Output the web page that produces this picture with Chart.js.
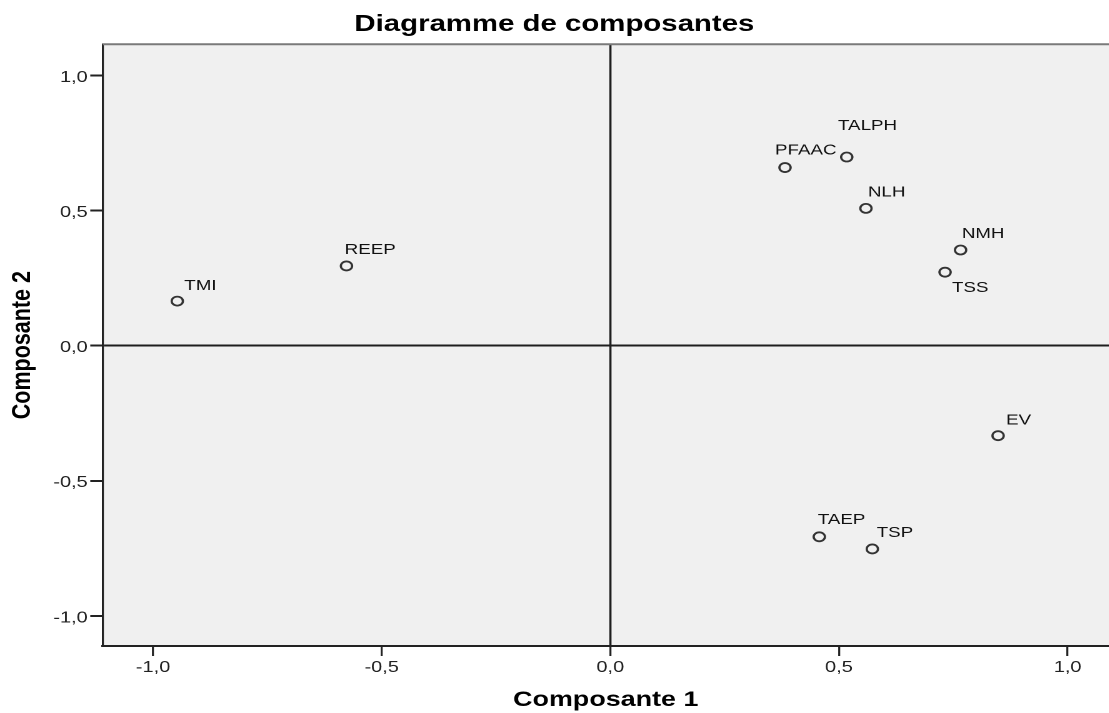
<!DOCTYPE html>
<html>
<head>
<meta charset="utf-8">
<script src="https://cdn.jsdelivr.net/npm/chart.js@4/dist/chart.umd.min.js"></script>
<style>
  html, body { margin: 0; padding: 0; background: #ffffff; overflow: hidden; }
  /* the whole figure is drawn narrow and widened horizontally */
  #wrap { width: 887px; height: 713px; transform: scaleX(1.25); transform-origin: 0 0; }
  canvas { display: block; }
</style>
</head>
<body>
<div id="wrap"><canvas id="c" width="887" height="713"></canvas></div>
<script>
// Component loadings
const variables = ['TMI', 'REEP', 'PFAAC', 'TALPH', 'NLH', 'NMH', 'TSS', 'EV', 'TAEP', 'TSP'];
const comp1 = [-0.947, -0.577, 0.382, 0.517, 0.559, 0.766, 0.732, 0.848, 0.457, 0.573];
const comp2 = [0.165, 0.295, 0.659, 0.698, 0.508, 0.354, 0.272, -0.333, -0.707, -0.752];

const xTicks = [-1.0, -0.5, 0.0, 0.5, 1.0];
const yTicks = [-1.0, -0.5, 0.0, 0.5, 1.0];

// where each name sits relative to its marker (dx, dy of the text baseline start)
const labelPlacement = {
  TMI: [5.6, -11], REEP: [-1.4, -12], PFAAC: [-8, -13], TALPH: [-7, -27],
  NLH: [1.6, -12], NMH: [1, -12], TSS: [5.6, 20], EV: [6.4, -11],
  TAEP: [-1.2, -13], TSP: [3.5, -12]
};

const fmt = v => v.toFixed(1).replace('.', ',');
const FONT = '"Liberation Sans", Arial, sans-serif';

const plotBackground = {
  id: 'plotBackground',
  beforeDraw(chart) {
    const {ctx, chartArea: a} = chart;
    ctx.save();
    ctx.fillStyle = '#f0f0f0';
    ctx.fillRect(a.left, a.top, a.right - a.left, a.bottom - a.top);
    ctx.restore();
  },
  afterDraw(chart) {
    const {ctx, chartArea: a} = chart;
    ctx.save();
    ctx.strokeStyle = '#7a7a7a';
    ctx.lineWidth = 2;
    ctx.beginPath();
    ctx.moveTo(a.left, a.top);
    ctx.lineTo(a.right, a.top);
    ctx.stroke();
    ctx.restore();
  }
};

const pointNames = {
  id: 'pointNames',
  afterDatasetsDraw(chart) {
    const {ctx} = chart;
    const meta = chart.getDatasetMeta(0);
    ctx.save();
    ctx.font = '15px ' + FONT;
    ctx.fillStyle = '#111111';
    ctx.textAlign = 'left';
    ctx.textBaseline = 'alphabetic';
    meta.data.forEach((pt, i) => {
      const name = variables[i];
      const [dx, dy] = labelPlacement[name] || [4, -10];
      ctx.fillText(name, pt.x + dx, pt.y + dy);
    });
    ctx.restore();
  }
};

const zeroOnly = c => (c.tick && c.tick.value === 0) ? '#1e1e1e' : 'rgba(0,0,0,0)';

new Chart(document.getElementById('c'), {
  type: 'scatter',
  data: {
    datasets: [{
      data: variables.map((n, i) => ({x: comp1[i], y: comp2[i]})),
      pointRadius: 4.5,
      pointHoverRadius: 4.5,
      borderWidth: 1.8,
      borderColor: '#333333',
      backgroundColor: 'rgba(0,0,0,0)'
    }]
  },
  options: {
    responsive: false,
    devicePixelRatio: 2,
    animation: false,
    events: [],
    layout: { padding: 0, autoPadding: false },
    plugins: {
      legend: { display: false },
      tooltip: { enabled: false },
      title: {
        display: true,
        text: 'Diagramme de composantes',
        color: '#000000',
        font: { family: FONT, size: 23.5, weight: 'bold' },
        padding: { top: 10.5, bottom: 5.6 }
      }
    },
    scales: {
      x: {
        type: 'linear',
        min: -1.11,
        max: 1.09,
        afterBuildTicks: s => { s.ticks = xTicks.map(v => ({value: v})); },
        afterFit: s => { s.height = 67; s.paddingLeft = 0; s.paddingRight = 0; },
        ticks: {
          callback: v => fmt(v),
          color: '#222222',
          font: { family: FONT, size: 16 },
          padding: 2,
          maxRotation: 0
        },
        grid: {
          drawOnChartArea: true,
          color: zeroOnly,
          lineWidth: 1.7,
          drawTicks: true,
          tickLength: 10,
          tickColor: '#222222',
          tickWidth: 1.6
        },
        border: { display: true, color: '#222222', width: 2 },
        title: {
          display: true,
          text: 'Composante 1',
          color: '#000000',
          font: { family: FONT, size: 21.5, weight: 'bold' },
          padding: { top: 0, bottom: 0 }
        }
      },
      y: {
        type: 'linear',
        min: -1.111,
        max: 1.115,
        afterBuildTicks: s => { s.ticks = yTicks.map(v => ({value: v})); },
        afterFit: s => { s.width = 82.2; s.paddingTop = 0; s.paddingBottom = 0; },
        ticks: {
          callback: v => fmt(v),
          color: '#222222',
          font: { family: FONT, size: 16 },
          padding: 2,
          labelOffset: 2
        },
        grid: {
          drawOnChartArea: true,
          color: zeroOnly,
          lineWidth: 2,
          drawTicks: true,
          tickLength: 10,
          tickColor: '#222222',
          tickWidth: 2
        },
        border: { display: true, color: '#222222', width: 1.6 },
        title: {
          display: true,
          text: 'Composante 2',
          color: '#000000',
          font: { family: FONT, size: 21.5, weight: 'bold' },
          padding: { top: 5, bottom: 0 }
        }
      }
    }
  },
  plugins: [plotBackground, pointNames]
});
</script>
</body>
</html>
